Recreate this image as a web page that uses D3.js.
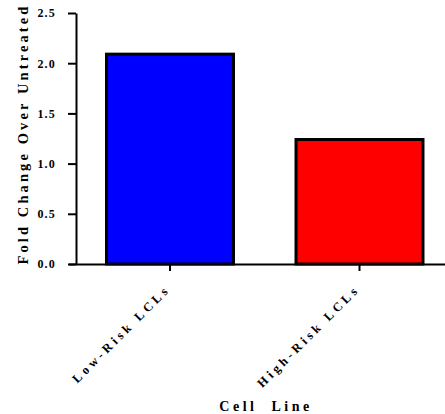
<!DOCTYPE html>
<html><head><meta charset="utf-8">
<script src="https://cdn.jsdelivr.net/npm/d3@7"></script>
<style>body{margin:0;background:#fff} svg{display:block} text{font-family:"Liberation Serif","DejaVu Serif",serif;font-weight:bold;fill:#000}</style>
</head><body><svg id="chart" width="445" height="414"></svg>
<script>
const categories = ["Low-Risk LCLs", "High-Risk LCLs"];
const values = [2.09, 1.24];
const barColors = ["#0000ff", "#ff0000"];
const yTickValues = [0, 0.5, 1.0, 1.5, 2.0, 2.5];
const yTitle = "Fold Change Over Untreated";
const xTitle = "Cell  Line";

const svg = d3.select("#chart");
const font = '"Liberation Serif", "DejaVu Serif", serif';
const x0 = 76, y0 = 264, yTop = 13;

const x = d3.scaleBand().domain(categories).range([x0, 453.5]).paddingInner(0.33).paddingOuter(0.161);
const y = d3.scaleLinear().domain([0, 2.5]).range([y0, yTop]);

// bars
svg.append("g").selectAll("rect").data(categories).join("rect")
  .attr("x", d => x(d))
  .attr("y", (d, i) => y(values[i]))
  .attr("width", x.bandwidth())
  .attr("height", (d, i) => y(0) - y(values[i]))
  .attr("fill", (d, i) => barColors[i])
  .attr("stroke", "#000").attr("stroke-width", 3);

// y axis
const yAxis = svg.append("g").attr("transform", `translate(${x0},0)`)
  .call(d3.axisLeft(y).tickValues(yTickValues).tickFormat(d3.format(".1f")).tickSize(8).tickSizeOuter(0).tickPadding(12));
yAxis.attr("font-family", null);
yAxis.select(".domain").attr("stroke-width", 2);
yAxis.selectAll(".tick line").attr("stroke-width", 2);
yAxis.selectAll("text").style("font-family", font).style("font-weight", "bold")
  .attr("font-size", 12).attr("letter-spacing", 1.2);

// x axis
const xAxis = svg.append("g").attr("transform", `translate(0,${y0})`)
  .call(d3.axisBottom(x).tickSize(7).tickSizeOuter(0));
xAxis.attr("font-family", null);
xAxis.select(".domain").attr("d", `M${x0 - 7},0.5H445`).attr("stroke-width", 2);
xAxis.selectAll(".tick line").attr("stroke-width", 2);
xAxis.selectAll("text")
  .style("font-family", font).style("font-weight", "bold").attr("font-size", 12.5)
  .attr("letter-spacing", 3.6)
  .attr("text-anchor", "end").attr("dy", null).attr("y", 0)
  .attr("transform", "translate(1,26) rotate(-45)");

// y title
svg.append("text")
  .attr("transform", `translate(28,134) rotate(-90)`)
  .attr("text-anchor", "middle")
  .style("font-family", font).attr("font-size", 14.5)
  .attr("letter-spacing", 3.1)
  .text(yTitle);

// x title
svg.append("text")
  .attr("x", 266).attr("y", 411)
  .attr("text-anchor", "middle")
  .style("font-family", font).attr("font-size", 14)
  .attr("letter-spacing", 3.5)
  .style("white-space", "pre")
  .text(xTitle);
</script>
</body></html>
